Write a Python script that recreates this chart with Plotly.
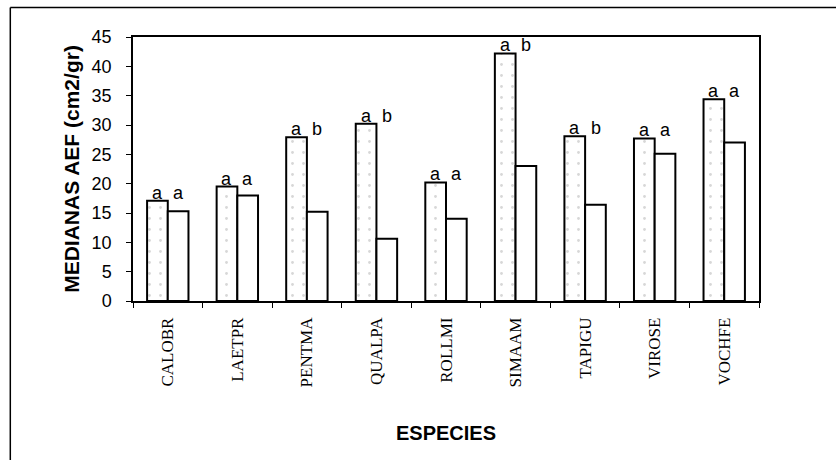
import plotly.graph_objects as go

# Species codes and median specific leaf area (cm2/gr) for the two groups
especies = ["CALOBR", "LAETPR", "PENTMA", "QUALPA", "ROLLMI",
            "SIMAAM", "TAPIGU", "VIROSE", "VOCHFE"]
serie_1 = [17.1, 19.5, 27.9, 30.2, 20.2, 42.2, 28.1, 27.7, 34.4]
serie_2 = [15.3, 18.0, 15.2, 10.6, 14.0, 23.0, 16.4, 25.1, 27.0]
# Significance letters above each bar pair
letras_1 = ["a", "a", "a", "a", "a", "a", "a", "a", "a"]
letras_2 = ["a", "a", "b", "b", "a", "b", "b", "a", "a"]

fig = go.Figure()
fig.add_trace(go.Bar(
    x=especies, y=serie_1,
    marker=dict(color="white", line=dict(color="black", width=2),
                pattern=dict(shape=".", fgcolor="#b0b0b0", bgcolor="white",
                             size=11, solidity=0.05)),
    showlegend=False,
))
fig.add_trace(go.Bar(
    x=especies, y=serie_2,
    marker=dict(color="white", line=dict(color="black", width=2)),
    showlegend=False,
))

annotations = []
for esp, v1, l1, l2 in zip(especies, serie_1, letras_1, letras_2):
    for letra, shift in ((l1, -10.4), (l2, 10.4)):
        annotations.append(dict(
            x=esp, y=v1, xref="x", yref="y", text=letra, showarrow=False,
            xshift=shift, yanchor="bottom", yshift=-4,
            font=dict(family="Liberation Sans, Arial", size=18, color="black"),
        ))

# Outer frame (top and left edges)
shapes = [
    dict(type="line", xref="paper", yref="paper",
         x0=-0.196, x1=1.2, y0=1.112, y1=1.112,
         line=dict(color="black", width=1.5)),
    dict(type="line", xref="paper", yref="paper",
         x0=-0.196, x1=-0.196, y0=1.112, y1=-0.62,
         line=dict(color="black", width=1.5)),
]

fig.update_layout(
    width=836, height=460,
    margin=dict(l=133, r=77, t=37, b=159),
    paper_bgcolor="white", plot_bgcolor="white",
    barmode="group", bargap=0.405, bargroupgap=0,
    annotations=annotations, shapes=shapes,
    xaxis=dict(
        type="category", tickangle=-90, tickson="boundaries",
        ticks="outside", ticklen=5, tickcolor="black", tickwidth=1,
        showline=True, linecolor="black", linewidth=1.5, mirror=True,
        showgrid=False, ticklabelstandoff=8,
        tickfont=dict(family="Liberation Serif, Times New Roman", size=17,
                      color="black"),
        title=dict(text="<b>ESPECIES</b>", standoff=40,
                   font=dict(family="Liberation Sans, Arial", size=20,
                             color="black")),
    ),
    yaxis=dict(
        range=[0, 45], tickvals=list(range(0, 46, 5)),
        ticks="outside", ticklen=5, tickcolor="black", tickwidth=1,
        showline=True, linecolor="black", linewidth=1.5, mirror=True,
        showgrid=False, zeroline=False, ticklabelstandoff=11,
        tickfont=dict(family="Liberation Sans, Arial", size=18, color="black"),
        title=dict(text="<b>MEDIANAS AEF (cm2/gr)</b>", standoff=6,
                   font=dict(family="Liberation Sans, Arial", size=21,
                             color="black")),
    ),
)

fig.write_html("out.html")
